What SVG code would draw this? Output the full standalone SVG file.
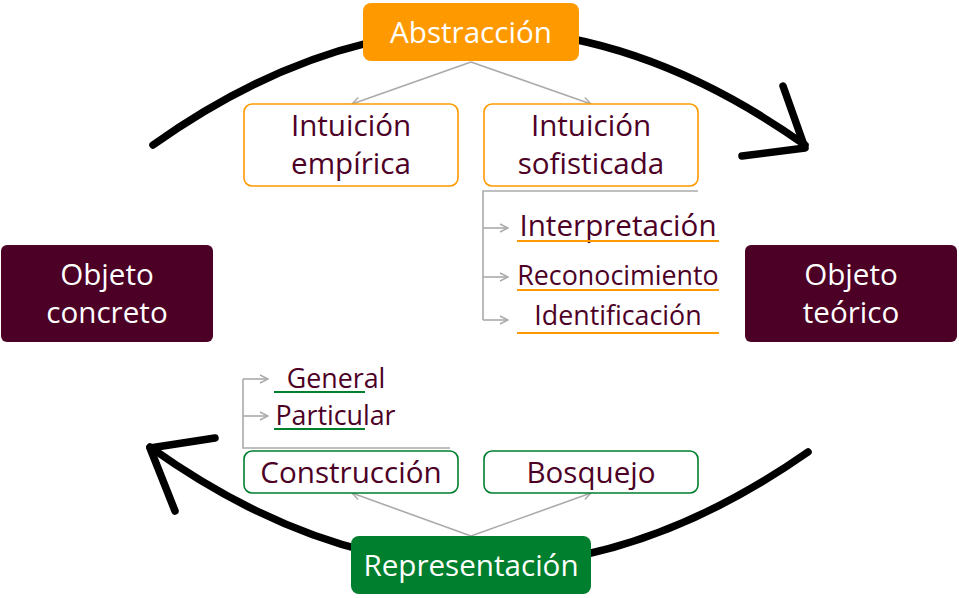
<svg xmlns="http://www.w3.org/2000/svg" width="959" height="598" viewBox="0 0 959 598">
<defs>
<marker id="ah" viewBox="0 0 10 10" refX="9" refY="5" markerWidth="10" markerHeight="10" markerUnits="userSpaceOnUse" orient="auto">
<path d="M1,1 L9,5 L1,9" fill="none" stroke="#aaaaaa" stroke-width="1.4"/>
</marker>
<style>
text{font-family:"Open Sans","Noto Sans","DejaVu Sans",sans-serif;text-anchor:middle}
.w{fill:#ffffff}
.d{fill:#4d0026}
.L{font-size:29.6px}
.S{font-size:26.8px}
.big{stroke:#000;stroke-width:7.5;fill:none;stroke-linecap:round;stroke-linejoin:round}
.con{stroke:#aaaaaa;stroke-width:1.6;fill:none}
.uo{stroke:#ff9900;stroke-width:2}
.ug{stroke:#007f2e;stroke-width:2}
</style>
</defs>
<rect width="959" height="598" fill="#ffffff"/>
<g id="connectors">
<path class="big" d="M153,145 Q479,-86 805,145"/>
<path class="big" d="M783,86 L805,148 L742,156"/>
<path class="big" d="M808,452 Q479,682 150,447"/>
<path class="big" d="M215,438 L150,448 L175,511"/>
<path class="con" d="M471,62 L352,104" marker-end="url(#ah)"/>
<path class="con" d="M471,62 L591,104" marker-end="url(#ah)"/>
<path class="con" d="M471,536 L352,493" marker-end="url(#ah)"/>
<path class="con" d="M471,536 L591,493" marker-end="url(#ah)"/>
<path class="con" d="M698,191 L483,191 L483,320"/>
<path class="con" d="M483,228 L508,228" marker-end="url(#ah)"/>
<path class="con" d="M483,277 L508,277" marker-end="url(#ah)"/>
<path class="con" d="M483,320 L508,320" marker-end="url(#ah)"/>
<path class="con" d="M450,448 L243,448 L243,379"/>
<path class="con" d="M243,379 L268,379" marker-end="url(#ah)"/>
<path class="con" d="M243,416 L268,416" marker-end="url(#ah)"/>
</g>
<g id="abstraccion">
<rect x="363" y="3" width="216" height="58" rx="8" fill="#ff9900"/>
<text x="471" y="43" class="w L">Abstracción</text>
</g>
<g id="intuicion-empirica">
<rect x="244" y="104" width="214" height="82" rx="8" fill="#ffffff" stroke="#ff9900" stroke-width="1.6"/>
<text x="351" y="136" class="d L">Intuición</text>
<text x="351" y="174" class="d L">empírica</text>
</g>
<g id="intuicion-sofisticada">
<rect x="484" y="104" width="214" height="82" rx="8" fill="#ffffff" stroke="#ff9900" stroke-width="1.6"/>
<text x="591" y="136" class="d L">Intuición</text>
<text x="591" y="174" class="d L">sofisticada</text>
</g>
<g id="interpretacion">
<text x="618" y="236" class="d L">Interpretación</text>
<line class="uo" x1="517" y1="241" x2="719" y2="241"/>
</g>
<g id="reconocimiento">
<text x="618" y="285" class="d S">Reconocimiento</text>
<line class="uo" x1="517" y1="290" x2="719" y2="290"/>
</g>
<g id="identificacion">
<text x="618" y="325" class="d S">Identificación</text>
<line class="uo" x1="517" y1="333" x2="719" y2="333"/>
</g>
<g id="objeto-concreto">
<rect x="1" y="245" width="212" height="97" rx="6" fill="#4d0026"/>
<text x="107" y="285" class="w L">Objeto</text>
<text x="107" y="323" class="w L">concreto</text>
</g>
<g id="objeto-teorico">
<rect x="745" y="245" width="212" height="97" rx="6" fill="#4d0026"/>
<text x="851" y="285" class="w L">Objeto</text>
<text x="851" y="323" class="w L">teórico</text>
</g>
<g id="general">
<text x="336" y="388" class="d S">General</text>
<line class="ug" x1="274" y1="392" x2="365" y2="392"/>
</g>
<g id="particular">
<text x="335.5" y="425" class="d S">Particular</text>
<line class="ug" x1="274" y1="429" x2="365" y2="429"/>
</g>
<g id="construccion">
<rect x="244" y="451" width="214" height="42" rx="8" fill="#ffffff" stroke="#007f2e" stroke-width="1.6"/>
<text x="351" y="483" class="d L">Construcción</text>
</g>
<g id="bosquejo">
<rect x="484" y="451" width="214" height="42" rx="8" fill="#ffffff" stroke="#007f2e" stroke-width="1.6"/>
<text x="591" y="483" class="d L">Bosquejo</text>
</g>
<g id="representacion">
<rect x="351" y="536" width="240" height="58" rx="8" fill="#007f2e"/>
<text x="471" y="576" class="w L">Representación</text>
</g>
</svg>
